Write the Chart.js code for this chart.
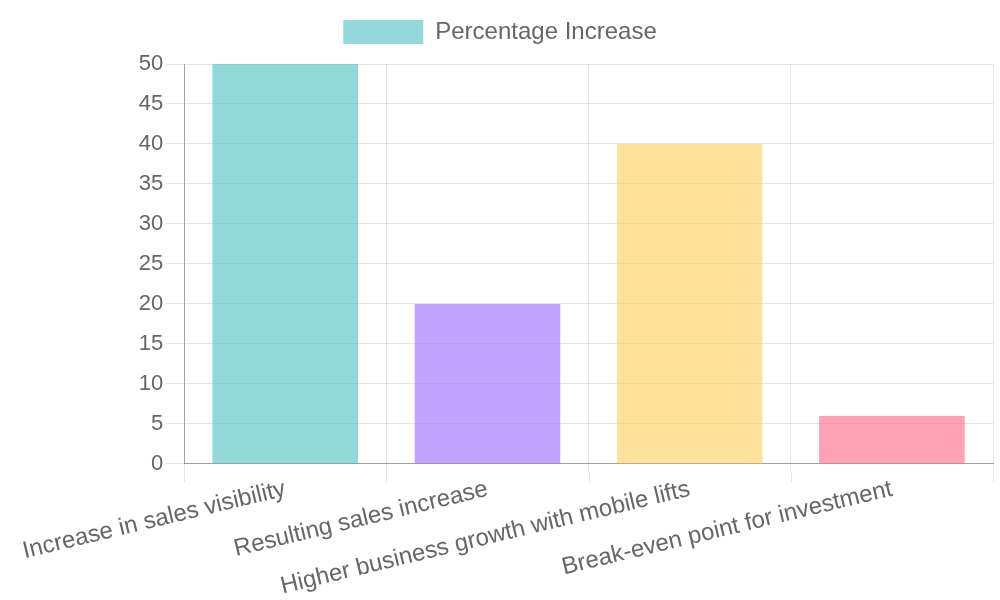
<!DOCTYPE html>
<html><head><meta charset="utf-8">
<script src="https://cdn.jsdelivr.net/npm/chart.js@4"></script>
<style>html,body{margin:0;padding:0;background:#fff}#wrap{width:1000px;height:600px}</style>
</head><body><div id="wrap"><canvas id="c"></canvas></div>
<script>
const categories = ["Increase in sales visibility", "Resulting sales increase", "Higher business growth with mobile lifts", "Break-even point for investment"];
const values = [50, 20, 40, 6];
const seriesLabel = "Percentage Increase";
const colors = ["rgba(75,192,192,0.6)", "rgba(153,102,255,0.6)", "rgba(255,206,86,0.6)", "rgba(255,99,132,0.6)"];

Chart.defaults.font.family = "'Liberation Sans', Arial, sans-serif";
Chart.defaults.color = "#666";
const legendMargin = { id: 'legendMargin', beforeInit(chart) {
  const fit = chart.legend.fit;
  chart.legend.fit = function () { fit.bind(this)(); this.height += 10; };
} };
// extend the x-axis tick marks below the axis (drawn at the scale's own grid positions)
const longTicks = { id: 'longTicks', afterDraw(chart) {
  const s = chart.scales.x, ctx = chart.ctx, n = s.ticks.length;
  const xs = [s.left];
  for (let i = 1; i < n; i++) xs.push((s.getPixelForTick(i - 1) + s.getPixelForTick(i)) / 2);
  xs.push(s.right);
  ctx.save();
  ctx.strokeStyle = 'rgba(0,0,0,0.1)';
  ctx.lineWidth = 1;
  xs.forEach(x => { const px = Math.round(x) + 0.5; ctx.beginPath(); ctx.moveTo(px, s.top + 8); ctx.lineTo(px, s.top + 18); ctx.stroke(); });
  ctx.restore();
} };
new Chart(document.getElementById('c'), {
  type: 'bar',
  data: { labels: categories, datasets: [{ label: seriesLabel, data: values, backgroundColor: colors, borderWidth: 0 }] },
  options: {
    responsive: true, maintainAspectRatio: false, animation: false,
    layout: { padding: { top: 10, left: 7, right: 7, bottom: -4 } },
    plugins: { legend: { labels: { font: { size: 24 }, boxWidth: 80 } }, tooltip: { enabled: false } },
    scales: {
      x: { ticks: { font: { size: 24 }, minRotation: 13.5, maxRotation: 13.5 }, grid: { color: 'rgba(0,0,0,0.1)', tickLength: 8 }, border: { color: 'rgba(0,0,0,0.3)' } },
      y: { beginAtZero: true, max: 50, ticks: { stepSize: 5, font: { size: 22 } }, grid: { color: 'rgba(0,0,0,0.1)', tickLength: 18 }, border: { color: 'rgba(0,0,0,0.3)' },
           afterFit(scale) { scale.width = 155; } }
    }
  },
  plugins: [legendMargin, longTicks]
});
</script></body></html>
